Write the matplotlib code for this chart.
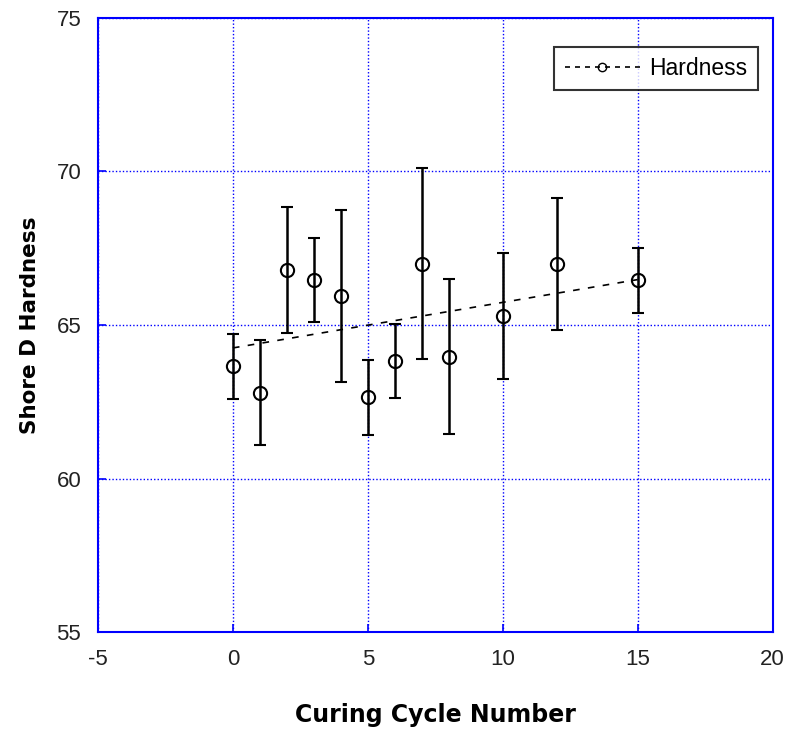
import numpy as np
import matplotlib.pyplot as plt

plt.rcParams['font.family'] = ['Liberation Sans', 'DejaVu Sans']
plt.rcParams['axes.unicode_minus'] = False

# Ciclos de curado y dureza Shore D medida
ciclos = [0, 1, 2, 3, 4, 5, 6, 7, 8, 10, 12, 15]
dureza = [63.65, 62.8, 66.8, 66.47, 65.95, 62.65, 63.83, 67.0, 63.97, 65.3, 67.0, 66.45]
error = [1.06, 1.72, 2.05, 1.37, 2.8, 1.22, 1.2, 3.1, 2.52, 2.05, 2.15, 1.07]

x_ticks = [-5, 0, 5, 10, 15, 20]
y_ticks = [55, 60, 65, 70, 75]

fig = plt.figure(figsize=(7.9, 7.31), dpi=100)
ax = fig.add_axes([0.124, 0.1354, 0.854, 0.84])

# Línea de tendencia (ajuste lineal)
pendiente, ordenada = np.polyfit(ciclos, dureza, 1)
x_fit = np.array([ciclos[0], ciclos[-1]])
ax.plot(x_fit, pendiente * x_fit + ordenada, color='black', linestyle=(0, (4, 5)),
        linewidth=1.2, zorder=3)

ax.errorbar(ciclos, dureza, yerr=error, fmt='o', color='black', markerfacecolor='none',
            markersize=9.5, markeredgewidth=1.5, elinewidth=1.8, capsize=4, capthick=1.8,
            zorder=4)

# Elemento de leyenda
ax.plot([], [], color='black', linestyle=(0, (3, 3)), linewidth=1.2, marker='o',
        markerfacecolor='none', markersize=6, label='Hardness')

ax.set_xlim(-5, 20)
ax.set_ylim(55, 75)
ax.set_xticks(x_ticks)
ax.set_yticks(y_ticks)
ax.tick_params(direction='in', colors='blue', labelcolor='#222222', labelsize=16,
               length=6, width=1.2)
ax.tick_params(axis='x', pad=12)
ax.tick_params(axis='y', pad=12)
for s in ax.spines.values():
    s.set_color('blue')
    s.set_linewidth(1.5)
ax.grid(True, color='blue', linestyle=(0, (1, 1.5)), linewidth=1)

ax.set_xlabel('Curing Cycle Number', fontsize=17, fontweight='bold',
              family='DejaVu Sans', labelpad=24)
ax.set_ylabel('Shore D Hardness', fontsize=15.5, fontweight='bold',
              family='DejaVu Sans', labelpad=12)

leg = ax.legend(loc='upper right', fontsize=16.5, frameon=True, fancybox=False,
                edgecolor='black', borderaxespad=0, handlelength=3.3, borderpad=0.45,
                handletextpad=0.4, bbox_to_anchor=(0.978, 0.953))
leg.get_frame().set_linewidth(1.5)

plt.savefig('out.png')
